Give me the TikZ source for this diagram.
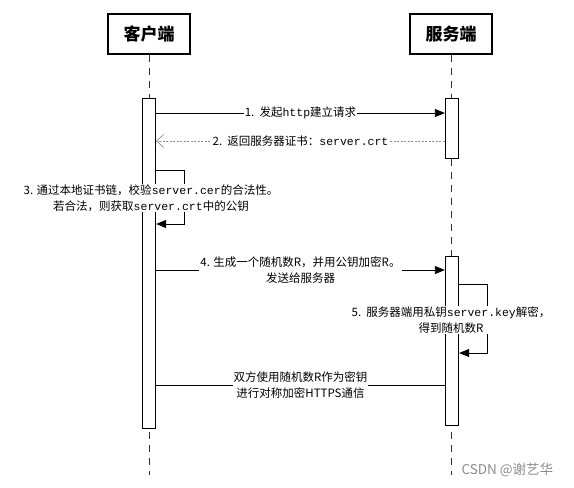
\documentclass[tikz,border=0pt]{standalone}
\usepackage{fontspec}
\setmainfont{Noto Sans CJK SC}
\newfontfamily\mn{Liberation Mono}
\usetikzlibrary{arrows.meta}
\begin{document}
\begin{tikzpicture}[x=1pt,y=-1pt,
  actor/.style={draw, line width=1.3pt, minimum width=82pt, minimum height=40pt, inner sep=0pt, font=\fontsize{17}{20}\selectfont\bfseries},
  life/.style={line width=0.9pt, draw=black!80, dash pattern=on 7pt off 6pt},
  act/.style={draw, line width=0.8pt, fill=white, minimum width=13.5pt, inner sep=0pt},
  msg/.style={line width=0.8pt, -{Triangle[length=10pt,width=8pt]}},
  ret/.style={line width=0.5pt, draw=black!45, dash pattern=on 2pt off 1.5pt, -{Straight Barb[length=7pt,width=13pt,line width=0.7pt]}},
  plain/.style={line width=0.8pt},
  lbl/.style={fill=white, inner sep=1pt, align=center, font=\fontsize{11.5}{16}\selectfont}
]
\useasboundingbox (0,0) rectangle (574,488);

\node[actor] (C) at (149,34) {客户端};
\node[actor] (S) at (451,34) {服务端};
\coordinate (Cend) at (149,475);
\coordinate (Send) at (451,475);
\draw[life] (C.south) -- (Cend);
\draw[life] (S.south) -- (Send);

\node[act, minimum height=330pt] (CA) at (149,263) {};
\node[act, minimum height=60pt] (SA1) at (452,128) {};
\node[act, minimum height=169pt] (SA2) at (452,340.5) {};

% 1
\draw[msg] (CA.east |- 0,113) -- (SA1.west |- 0,113)
  node[midway, lbl] {1.\ \ 发起{\mn http}建立请求};
% 2
\draw[ret] (SA1.west |- 0,141) -- (CA.east |- 0,141)
  node[midway, lbl] {2.\ \ 返回服务器证书：{\mn server.crt}};
% 3
\coordinate (s3a) at (184,170);
\coordinate (s3b) at (184,224);
\draw[msg] (CA.east |- s3a) -- (s3a) -- (s3b) -- (CA.east |- s3b);
\node[lbl] (L3) at (151,198) {3. 通过本地证书链，校验{\mn server.cer}的合法性。\\若合法，则获取{\mn server.crt}中的公钥};
% 4
\draw[msg] (CA.east |- 0,270) -- (SA2.west |- 0,270)
  node[midway, lbl] {4. 生成一个随机数R，并用公钥加密R。\\发送给服务器};
% 5
\coordinate (s5a) at (487,284);
\coordinate (s5b) at (487,353);
\draw[msg] (SA2.east |- s5a) -- (s5a) -- (s5b) -- (SA2.east |- s5b);
\node[lbl] (L5) at (451,320) {5.\ \ 服务器端用私钥{\mn server.key}解密，\\得到随机数R};
% 6
\draw[plain] (CA.east |- 0,385) -- (SA2.west |- 0,385)
  node[midway, lbl] {双方使用随机数R作为密钥\\进行对称加密HTTPS通信};

\node[text=black!45, font=\fontsize{13.5}{15}\selectfont, anchor=west] (wm) at (458,470) {CSDN @谢艺华};
\end{tikzpicture}
\end{document}
